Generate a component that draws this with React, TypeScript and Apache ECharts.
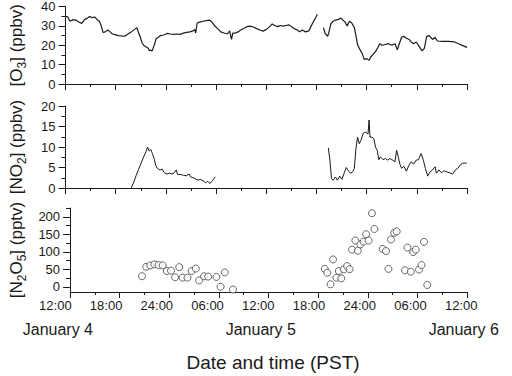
import React, { useEffect, useRef } from "react";
import * as echarts from "echarts";

// x values: hours elapsed since 12:00 PST, January 4
const o3Part1: [number, number][] = [
  [0.0, 35.1], [0.27, 34.5], [0.54, 32.4], [0.86, 33.2], [1.25, 33.0], [1.64, 31.9], [1.95, 31.3],
  [2.22, 33.0], [2.61, 34.0], [2.88, 34.8], [3.19, 34.3], [3.5, 34.6], [3.78, 33.2], [4.05, 32.4],
  [4.28, 29.9], [4.48, 26.6], [4.75, 26.9], [5.06, 27.9], [5.33, 26.9], [5.61, 25.8], [5.92, 25.5],
  [6.31, 25.0], [6.7, 24.8], [7.09, 24.7], [7.47, 25.8], [7.86, 26.9], [8.26, 28.2], [8.53, 29.1],
  [8.72, 26.6], [8.95, 24.1], [9.15, 21.3], [9.34, 20.0], [9.61, 19.2], [9.89, 18.4], [10.05, 17.2],
  [10.2, 17.6], [10.35, 17.0], [10.47, 18.4], [10.66, 20.8], [10.82, 23.3], [11.09, 24.1], [11.36, 25.0],
  [11.76, 25.3], [12.15, 26.1], [12.53, 25.8], [12.93, 25.6], [13.31, 25.8], [13.7, 25.6], [14.1, 26.3],
  [14.48, 26.6], [14.87, 26.9], [15.26, 27.4], [15.45, 28.2], [15.57, 26.3], [15.73, 31.5], [16.04, 31.9],
  [16.43, 32.4], [16.82, 32.7], [17.2, 33.0], [17.52, 31.9], [17.79, 30.2], [18.18, 28.6], [18.57, 26.9],
  [18.95, 26.3], [19.35, 25.8], [19.62, 27.4], [19.85, 23.0], [20.0, 26.3], [20.32, 26.3], [20.63, 26.9],
  [20.9, 27.7], [21.29, 28.6], [21.69, 29.6], [22.07, 29.9], [22.46, 29.4], [22.86, 28.6], [23.24, 27.9],
  [23.63, 27.3], [24.02, 28.2], [24.41, 29.6], [24.72, 31.0], [24.99, 30.2], [25.38, 29.6], [25.66, 30.2],
  [26.04, 29.9], [26.36, 30.2], [26.74, 30.5], [27.01, 29.6], [27.33, 28.6], [27.72, 27.9], [27.99, 26.9],
  [28.3, 27.9], [28.69, 26.9], [29.08, 27.4], [29.28, 29.1], [29.55, 31.5], [29.78, 33.2], [29.98, 34.8],
  [30.1, 36.0],
];

const o3Part2: [number, number][] = [
  [30.83, 29.1], [31.03, 26.3], [31.34, 24.6], [31.49, 26.6], [31.73, 31.2], [32.0, 32.4], [32.27, 33.0],
  [32.58, 33.2], [32.9, 34.0], [33.17, 33.0], [33.44, 31.9], [33.67, 29.9], [33.95, 32.4], [34.22, 31.5],
  [34.53, 29.1], [34.72, 25.0], [34.92, 20.3], [35.23, 17.6], [35.5, 15.4], [35.7, 12.7], [36.01, 13.1],
  [36.29, 12.2], [36.47, 13.8], [36.79, 15.4], [37.06, 16.7], [37.33, 18.7], [37.57, 20.8], [37.84, 20.0],
  [38.23, 20.4], [38.62, 20.8], [39.01, 20.0], [39.39, 20.8], [39.67, 17.6], [39.91, 20.8], [40.18, 24.1],
  [40.44, 24.6], [40.76, 23.6], [41.07, 23.0], [41.34, 21.7], [41.61, 20.8], [41.93, 21.7], [42.31, 19.2],
  [42.63, 17.1], [42.9, 18.4], [43.18, 24.6], [43.48, 25.0], [43.88, 23.0], [44.18, 24.1], [44.46, 22.2],
  [45.05, 22.0], [45.81, 22.0], [46.52, 21.7], [46.98, 20.8], [47.57, 19.7], [48.0, 18.9],
];

const no2Part1: [number, number][] = [
  [7.86, 0], [8.18, 1.5], [8.45, 3.1], [8.72, 4.5], [9.03, 6.0], [9.34, 7.6], [9.61, 8.8], [9.81, 10.0],
  [10.0, 9.0], [10.2, 9.4], [10.39, 8.4], [10.59, 7.2], [10.78, 5.6], [10.98, 4.8], [11.29, 4.4],
  [11.56, 4.6], [11.83, 3.7], [12.15, 3.4], [12.46, 3.6], [12.73, 3.4], [13.0, 3.7], [13.23, 4.4],
  [13.4, 3.3], [13.75, 3.3], [14.1, 3.1], [14.45, 3.0], [14.8, 3.4], [14.95, 2.7], [15.26, 2.5],
  [15.57, 2.2], [15.84, 1.9], [16.1, 2.1], [16.43, 1.8], [16.74, 1.3], [17.0, 1.6], [17.28, 1.1],
  [17.6, 1.9], [17.9, 2.7],
];

const no2Part2: [number, number][] = [
  [31.42, 9.8], [31.61, 6.8], [31.8, 2.3], [32.0, 1.9], [32.27, 2.7], [32.5, 1.9], [32.78, 2.9],
  [33.05, 2.1], [33.36, 3.9], [33.56, 5.0], [33.75, 4.4], [34.06, 3.6], [34.34, 4.0], [34.53, 4.8],
  [34.72, 9.6], [34.92, 12.4], [35.12, 10.8], [35.31, 11.6], [35.62, 13.4], [35.89, 13.6], [36.17, 13.2],
  [36.29, 16.6], [36.4, 12.4], [36.65, 12.4], [36.87, 12.0], [37.06, 10.0], [37.26, 9.2], [37.46, 6.9],
  [37.65, 7.6], [37.96, 6.9], [38.23, 7.2], [38.5, 6.8], [38.81, 7.2], [39.1, 6.8], [39.39, 6.4],
  [39.59, 9.2], [39.78, 7.6], [39.98, 5.8], [40.18, 4.8], [40.44, 5.3], [40.76, 4.1], [41.07, 5.6],
  [41.34, 6.4], [41.61, 5.8], [41.93, 6.8], [42.2, 6.9], [42.51, 8.4], [42.78, 6.8], [43.02, 4.8],
  [43.3, 2.9], [43.56, 3.9], [43.87, 4.4], [44.18, 5.2], [44.34, 3.6], [44.65, 4.4], [44.95, 3.7],
  [45.23, 4.2], [45.62, 3.9], [45.95, 3.7], [46.29, 3.4], [46.6, 4.4], [46.9, 4.8], [47.18, 5.6],
  [47.46, 6.0], [47.77, 6.1], [47.96, 6.0],
];

const n2o5: [number, number][] = [
  [8.7, 30], [9.2, 57], [9.7, 61], [10.2, 64], [10.7, 62], [11.2, 61], [11.7, 45], [12.2, 46],
  [12.7, 27], [13.2, 56], [13.6, 26], [14.2, 26], [14.7, 45], [15.2, 52], [15.6, 18], [16.2, 30],
  [16.7, 29], [17.7, 28], [18.2, 0], [18.7, 41], [19.7, -8],
  [30.8, 51], [31.1, 40], [31.5, 7], [31.8, 78], [32.2, 26], [32.5, 45], [32.8, 24], [33.1, 50],
  [33.5, 59], [33.8, 50], [34.1, 106], [34.5, 132], [34.8, 103], [35.1, 121], [35.5, 129], [35.8, 150],
  [36.1, 132], [36.5, 210], [36.8, 165], [37.8, 108], [38.2, 102], [38.5, 51], [38.8, 135], [39.2, 154],
  [39.5, 158], [40.5, 47], [40.8, 112], [41.2, 43], [41.5, 99], [41.8, 106], [42.2, 49], [42.5, 62],
  [42.8, 128], [43.2, 5],
];

const xTickHours = [0, 6, 12, 18, 24, 30, 36, 42, 48];
const xTickLabels = ["12:00", "18:00", "24:00", "06:00", "12:00", "18:00", "24:00", "06:00", "12:00"];
const dateHours = [0, 24, 48];
const dateLabels = ["January 4", "January 5", "January 6"];
const n2o5MajorTicks = [0, 50, 100, 150, 200];
const n2o5MinorTicks = [25, 75, 125, 175, 225];

const FONT = "Liberation Sans, Arial, Helvetica, sans-serif";
const INK = "#1a1a1a";

// layout
const PLOT_LEFT = 56;
const PLOT_W = 411;
const SPAN_H = 48;
const PAD_H = 6; // label grid extends by this many hours each side

export default function App() {
  const ref = useRef<HTMLDivElement>(null);

  useEffect(() => {
    if (!ref.current) return;
    const chart = echarts.init(ref.current, undefined, { renderer: "svg" });

    const axisLine = () => ({ show: true, onZero: false, lineStyle: { color: INK, width: 1 } });
    const tickStyle = () => ({ color: INK, width: 1, opacity: 1 });
    const yLabel = () => ({
      fontSize: 13, color: INK, fontFamily: FONT, margin: 10,
      showMinLabel: true, showMaxLabel: true, hideOverlap: false,
    });
    const nameRich = () => ({
      b: { fontSize: 17, color: INK, fontFamily: FONT, lineHeight: 22 },
      s: { fontSize: 12, color: INK, fontFamily: FONT, lineHeight: 12, verticalAlign: "bottom" },
    });

    const pxPerHour = PLOT_W / SPAN_H;
    const grids = [
      { left: PLOT_LEFT, width: PLOT_W, top: 3, height: 81 },
      { left: PLOT_LEFT, width: PLOT_W, top: 106, height: 82 },
      { left: PLOT_LEFT, width: PLOT_W, top: 208, height: 84 },
      // wider twin of the bottom grid that only carries the x labels
      { left: PLOT_LEFT - PAD_H * pxPerHour, width: PLOT_W + 2 * PAD_H * pxPerHour, top: 208, height: 84 },
    ];

    const makeX = (gi: number, withName: boolean) => ({
      type: "value",
      gridIndex: gi,
      min: 0,
      max: SPAN_H,
      interval: 6,
      axisLine: axisLine(),
      axisTick: { show: true, inside: false, length: 6, lineStyle: tickStyle() },
      minorTick: { show: true, splitNumber: 2, length: 3, lineStyle: tickStyle() },
      splitLine: { show: false },
      minorSplitLine: { show: false },
      axisLabel: { show: false },
      name: withName ? "Date and time (PST)" : "",
      nameLocation: "middle",
      nameGap: 61,
      nameTextStyle: { fontSize: 19, color: INK, fontFamily: FONT, padding: [0, 0, 0, 9] },
    });

    const labelAxis = (margin: number, fontSize: number, values: number[], texts: string[], padLeft: number) => ({
      type: "value",
      gridIndex: 3,
      position: "bottom",
      offset: 0,
      min: -PAD_H,
      max: SPAN_H + PAD_H,
      axisLine: { show: false },
      axisTick: { show: false },
      splitLine: { show: false },
      axisLabel: {
        show: true,
        customValues: values,
        margin,
        fontSize,
        color: INK,
        fontFamily: FONT,
        hideOverlap: false,
        padding: [0, 0, 0, padLeft],
        formatter: (v: number) => {
          const i = values.findIndex((h) => Math.abs(h - v) < 1e-6);
          return i >= 0 ? texts[i] : "";
        },
      },
    });

    const makeY = (gi: number, min: number, max: number, interval: number, name: string) => ({
      type: "value",
      gridIndex: gi,
      min,
      max,
      interval,
      axisLine: axisLine(),
      axisTick: { show: true, inside: false, length: 7, lineStyle: tickStyle() },
      minorTick: { show: true, splitNumber: 2, length: 4, lineStyle: tickStyle() },
      splitLine: { show: false },
      minorSplitLine: { show: false },
      axisLabel: yLabel(),
      name,
      nameLocation: "middle",
      nameGap: 38,
      nameTextStyle: { rich: nameRich() },
    });

    const option: any = {
      animation: false,
      backgroundColor: "#ffffff",
      grid: grids,
      xAxis: [
        makeX(0, false),
        makeX(1, false),
        makeX(2, true),
        labelAxis(7, 13, xTickHours, xTickLabels, 0),
        labelAxis(29, 16, dateHours, dateLabels, 5),
      ],
      yAxis: [
        makeY(0, 0, 40, 10, "{b|[O}{s|3}{b|] (ppbv)}"),
        makeY(1, 0, 20, 5, "{b|[NO}{s|2}{b|] (ppbv)}"),
        {
          type: "value",
          gridIndex: 2,
          min: -15,
          max: 225,
          axisLine: axisLine(),
          axisTick: { show: true, inside: false, length: 7, customValues: n2o5MajorTicks, lineStyle: tickStyle() },
          splitLine: { show: false },
          axisLabel: { ...yLabel(), customValues: n2o5MajorTicks },
          name: "{b|[N}{s|2}{b|O}{s|5}{b|] (pptv)}",
          nameLocation: "middle",
          nameGap: 38,
          nameTextStyle: { rich: nameRich() },
        },
        {
          type: "value",
          gridIndex: 2,
          min: -15,
          max: 225,
          position: "left",
          offset: 0,
          axisLine: { show: false },
          axisTick: { show: true, inside: false, length: 4, customValues: n2o5MinorTicks, lineStyle: tickStyle() },
          splitLine: { show: false },
          axisLabel: { show: false },
        },
        {
          type: "value",
          gridIndex: 3,
          min: 0,
          max: 1,
          show: false,
        },
      ],
      series: [
        { type: "line", xAxisIndex: 0, yAxisIndex: 0, data: o3Part1, showSymbol: false, lineStyle: { color: INK, width: 1.2 } },
        { type: "line", xAxisIndex: 0, yAxisIndex: 0, data: o3Part2, showSymbol: false, lineStyle: { color: INK, width: 1.2 } },
        { type: "line", xAxisIndex: 1, yAxisIndex: 1, data: no2Part1, showSymbol: false, lineStyle: { color: INK, width: 1 } },
        { type: "line", xAxisIndex: 1, yAxisIndex: 1, data: no2Part2, showSymbol: false, lineStyle: { color: INK, width: 1 } },
        {
          type: "scatter",
          xAxisIndex: 2,
          yAxisIndex: 2,
          data: n2o5,
          symbol: "circle",
          symbolSize: 7,
          itemStyle: { color: "#ffffff", borderColor: "#444444", borderWidth: 1 },
        },
      ],
    };

    chart.setOption(option);
    return () => chart.dispose();
  }, []);

  return (
    <div
      ref={ref}
      style={{ position: "absolute", left: 0, top: 0, width: 512, height: 376, background: "#fff" }}
    />
  );
}
